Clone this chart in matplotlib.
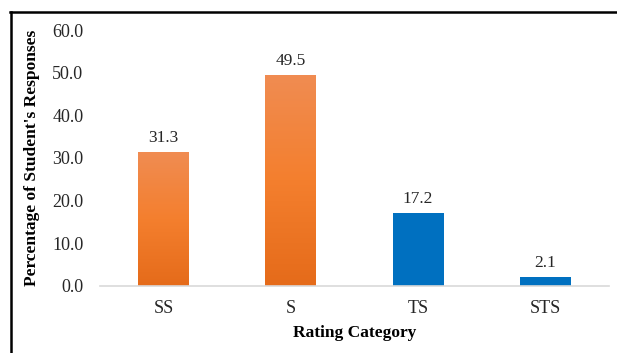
import numpy as np
import matplotlib.pyplot as plt
from matplotlib.lines import Line2D
from matplotlib.colors import LinearSegmentedColormap

categories = ["SS", "S", "TS", "STS"]
percentages = [31.3, 49.5, 17.2, 2.1]
is_orange = [True, True, False, False]

plt.rcParams['font.family'] = ['Liberation Serif', 'DejaVu Serif']

fig = plt.figure(figsize=(6.17, 3.53), dpi=100)
ax = fig.add_axes([0.162, 0.190, 0.825, 0.725])

orange_grad = LinearSegmentedColormap.from_list(
    "og", ["#E56B1A", "#F47F2E", "#F08C52"])
blue = "#0070C0"

x = np.arange(len(categories))
bars = ax.bar(x, percentages, width=0.4, color=blue, zorder=2)

grad = np.linspace(0, 1, 256).reshape(-1, 1)
for b, orange in zip(bars, is_orange):
    if not orange:
        continue
    b.set_facecolor("none")
    x0, w, h = b.get_x(), b.get_width(), b.get_height()
    im = ax.imshow(grad, cmap=orange_grad, origin="lower", aspect="auto",
                   extent=[x0, x0 + w, 0, h], zorder=2)
    im.set_clip_path(b)

for xi, v in zip(x, percentages):
    ax.text(xi, v + 1.4, f"{v:.1f}", ha="center", va="bottom",
            fontsize=12.5, color="#262626")

ax.set_xlim(-0.5, 3.5)
ax.set_ylim(0, 60)
ax.set_yticks(np.arange(0, 61, 10))
ax.set_yticklabels([f"{t:.1f}" for t in np.arange(0, 61, 10)])
ax.set_xticks(x)
ax.set_xticklabels(categories)
ax.tick_params(length=0, labelsize=13, colors="#262626")
ax.tick_params(axis="x", pad=10)
ax.tick_params(axis="y", pad=12)

for side in ["top", "right", "left"]:
    ax.spines[side].set_visible(False)
ax.spines["bottom"].set_color("#D9D9D9")
ax.spines["bottom"].set_linewidth(1.2)

ax.set_ylabel("Percentage of Student's Responses", fontsize=12.5,
              fontweight="bold", labelpad=9)
ax.set_xlabel("Rating Category", fontsize=12.5, fontweight="bold", labelpad=6)

# border lines along the left and top edges
fig.add_artist(Line2D([11 / 617, 11 / 617], [0, 1 - 11.5 / 353],
                      color="black", lw=1.8))
fig.add_artist(Line2D([10 / 617, 1], [1 - 11.5 / 353, 1 - 11.5 / 353],
                      color="black", lw=1.8))

fig.savefig("out.png", dpi=100)
